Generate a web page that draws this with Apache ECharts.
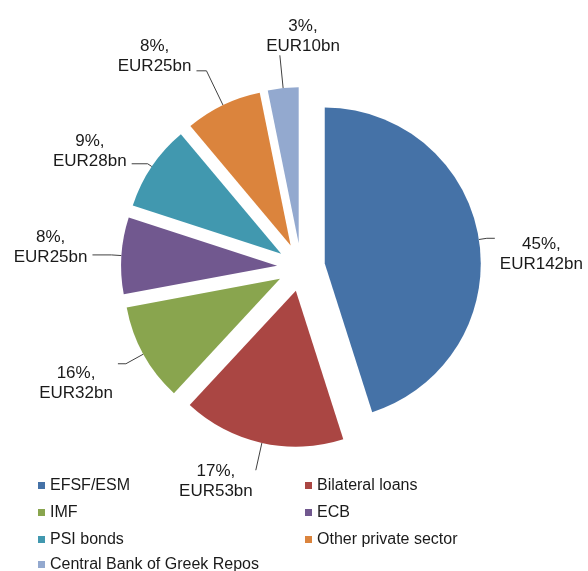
<!DOCTYPE html>
<html><head><meta charset="utf-8">
<script src="https://cdn.jsdelivr.net/npm/echarts@6/dist/echarts.min.js"></script>
<style>html,body{margin:0;padding:0;background:#fff}#c{width:588px;height:571px}</style>
</head><body><div id="c"></div>
<script>
const categories = ['EFSF/ESM','Bilateral loans','IMF','ECB','PSI bonds','Other private sector','Central Bank of Greek Repos'];
const values = [142, 53, 32, 25, 28, 25, 10];
const shareLabels = ['45%', '17%', '16%', '8%', '9%', '8%', '3%'];
const amountLabels = ['EUR142bn', 'EUR53bn', 'EUR32bn', 'EUR25bn', 'EUR28bn', 'EUR25bn', 'EUR10bn'];
const colors = ['#4572A7', '#AA4643', '#89A54E', '#71588F', '#4198AF', '#DB843D', '#93A9CF'];
const legendLeftItems = [categories[0], categories[2], categories[4]];
const legendRightItems = [categories[1], categories[3], categories[5]];
const legendLastItems = [categories[6]];
// leader-line lengths [radial, horizontal], gap to text, and text padding per slice label
const leaderLengths = [[8, 8], [28, 0], [20, 8], [10, 19], [5, 16], [38, 10], [33, 0]];
const labelGaps = [5, 3, 5, 5, 5, 5, 0];
const labelPads = [[32, 0, 0, 0], [23, 0, 0, 0], [40, 0, 0, 0], [0, 0, 16, 0], [0, 0, 25, 0], [0, 0, 29, 0], [0, -60, 38, 0]];

const chart = echarts.init(document.getElementById('c'), null, {renderer: 'canvas'});
const font = 'Liberation Sans, Arial, sans-serif';
const legendBase = {
  orient: 'vertical', padding: 0, itemWidth: 7, itemHeight: 7, itemGap: 10, icon: 'rect',
  selectedMode: false,
  textStyle: {fontFamily: font, fontSize: 16, color: '#1a1a1a', lineHeight: 17}
};
chart.setOption({
  animation: false,
  color: colors,
  textStyle: {fontFamily: font},
  legend: [
    Object.assign({}, legendBase, {left: 38, top: 477, data: legendLeftItems}),
    Object.assign({}, legendBase, {left: 305, top: 477, data: legendRightItems}),
    Object.assign({}, legendBase, {left: 38, top: 556, data: legendLastItems})
  ],
  series: [{
    type: 'pie',
    center: ['51.2%', '46.8%'],
    radius: 156,
    startAngle: 90,
    clockwise: true,
    selectedMode: 'multiple',
    selectedOffset: 24,
    avoidLabelOverlap: false,
    emphasis: {disabled: true},
    label: {
      show: true,
      position: 'outside',
      formatter: p => '{a|' + shareLabels[p.dataIndex] + ',}\n{a|' + amountLabels[p.dataIndex] + '}',
      rich: {a: {fontFamily: font, fontSize: 17, lineHeight: 20, color: '#1a1a1a', align: 'center'}}
    },
    labelLine: {show: true, smooth: false, lineStyle: {color: '#404040', width: 1}},
    data: categories.map((name, i) => ({
      name: name, value: values[i], selected: true,
      label: {padding: labelPads[i], distanceToLabelLine: labelGaps[i]},
      labelLine: {length: leaderLengths[i][0], length2: leaderLengths[i][1]}
    }))
  }]
});
</script></body></html>
